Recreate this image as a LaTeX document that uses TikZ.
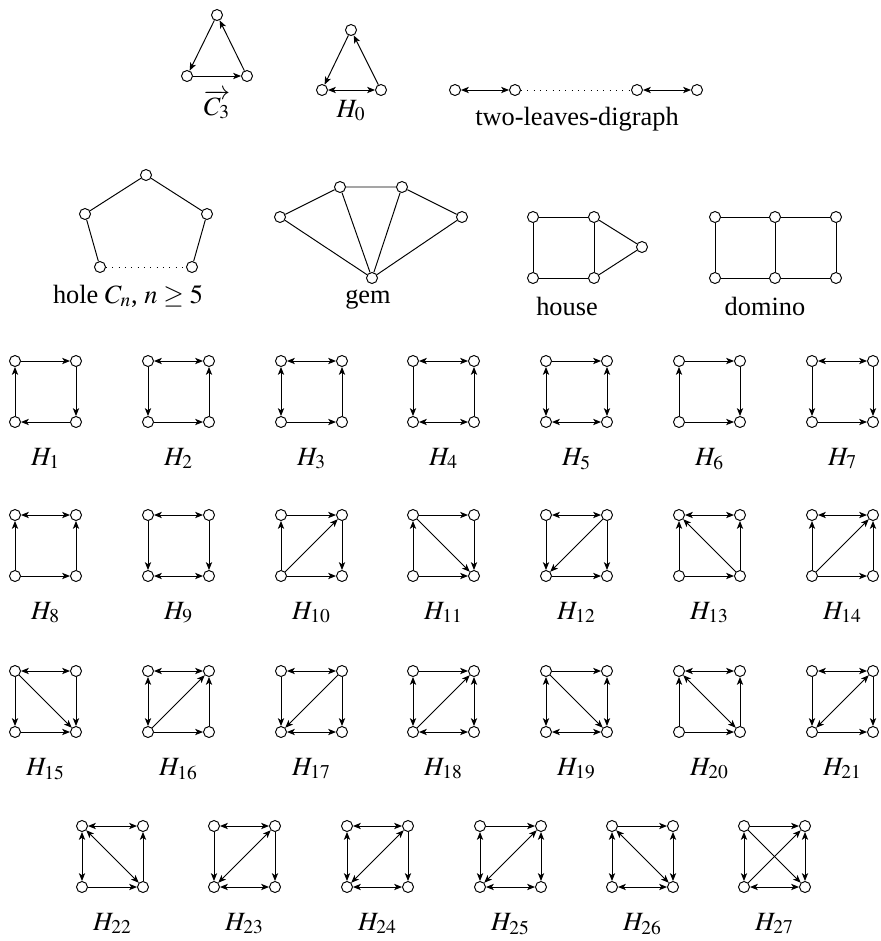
\documentclass[tikz,border=0pt]{standalone}
\usepackage{mathptmx}
\usepackage{fontspec}
\setmainfont{Liberation Serif}
\usetikzlibrary{arrows.meta}
\tikzset{vert/.style={
    circle,
    draw,
    fill=white,
    inner sep=0pt,
    minimum size=0.22cm
  },
  glabel/.style={anchor=base,inner sep=0pt,font=\fontsize{15}{18}\selectfont},
  dots/.style={dash pattern=on 0.6pt off 3pt},
}
% one square H_i: name, left x, top y, index
\newcommand{\hsq}[4]{%
  \node[vert] (#1a) at (#2,#3) {};
  \node[vert] (#1b) at (#2+61,#3) {};
  \node[vert] (#1c) at (#2,#3+61) {};
  \node[vert] (#1d) at (#2+61,#3+61) {};
  \node[glabel] (#1l) at (#2+30.5,#3+104) {$H_{#4}$};
}

\begin{document}
\begin{tikzpicture}[x=0.02cm,y=-0.02cm,line width=0.55pt,
    >={Stealth[length=4.5pt,width=3.6pt,inset=1.2pt]}]
  \useasboundingbox (0,0) rectangle (881,941);

  % top row
  \node[vert] (ct) at (217,15) {};
  \node[vert] (cl) at (187,76) {};
  \node[vert] (cr) at (247,76) {};
  \node[glabel] (cname) at (217,115) {$\overrightarrow{C_3}$};
  \draw[->] (ct) -- (cl);
  \draw[->] (cl) -- (cr);
  \draw[->] (cr) -- (ct);

  \node[vert] (ht) at (351,30) {};
  \node[vert] (hl) at (322,90) {};
  \node[vert] (hr) at (381,90) {};
  \node[glabel] (hname) at (351,117) {$H_0$};
  \draw[->] (ht) -- (hl);
  \draw[<->] (hl) -- (hr);
  \draw[->] (hr) -- (ht);

  \node[vert] (l1) at (455,90) {};
  \node[vert] (l2) at (515,90) {};
  \node[vert] (l3) at (637,90) {};
  \node[vert] (l4) at (697,90) {};
  \node[glabel] (lname) at (577,125) {two-leaves-digraph};
  \draw[<->] (l1) -- (l2);
  \draw[dots] (l2) -- (l3);
  \draw[<->] (l3) -- (l4);

  % undirected graphs
  \node[vert] (p1) at (146,175) {};
  \node[vert] (p2) at (85,214) {};
  \node[vert] (p3) at (207,214) {};
  \node[vert] (p4) at (100,267) {};
  \node[vert] (p5) at (192,267) {};
  \node[glabel] (pname) at (128,303) {hole $C_n$, $n\geq 5$};
  \draw (p1) -- (p2) -- (p4);
  \draw (p1) -- (p3) -- (p5);
  \draw[dots] (p4) -- (p5);

  \node[vert] (g1) at (280,217) {};
  \node[vert] (g2) at (340,187) {};
  \node[vert] (g3) at (402,187) {};
  \node[vert] (g4) at (462,217) {};
  \node[vert] (g5) at (372,278) {};
  \node[glabel] (gname) at (368,303) {gem};
  \draw (g1) -- (g2) -- (g3) -- (g4);
  \draw (g5) -- (g1);
  \draw (g5) -- (g2);
  \draw (g5) -- (g3);
  \draw (g5) -- (g4);

  \node[vert] (s1) at (533,217) {};
  \node[vert] (s2) at (594,217) {};
  \node[vert] (s3) at (533,278) {};
  \node[vert] (s4) at (594,278) {};
  \node[vert] (s5) at (642,247) {};
  \node[glabel] (sname) at (567,315) {house};
  \draw (s1) -- (s2) -- (s4) -- (s3) -- (s1);
  \draw (s2) -- (s5) -- (s4);

  \node[vert] (d1) at (715,217) {};
  \node[vert] (d2) at (775,217) {};
  \node[vert] (d3) at (836,217) {};
  \node[vert] (d4) at (715,278) {};
  \node[vert] (d5) at (775,278) {};
  \node[vert] (d6) at (836,278) {};
  \node[glabel] (dname) at (765,315) {domino};
  \draw (d1) -- (d2) -- (d3) -- (d6) -- (d5) -- (d4) -- (d1);
  \draw (d2) -- (d5);

  % H_1 ... H_7
  \hsq{h1}{15}{361}{1}
  \draw[->] (h1a) -- (h1b);
  \draw[->] (h1b) -- (h1d);
  \draw[->] (h1d) -- (h1c);
  \draw[->] (h1c) -- (h1a);
  \hsq{h2}{148}{361}{2}
  \draw[<->] (h2a) -- (h2b);
  \draw[->] (h2a) -- (h2c);
  \draw[->] (h2c) -- (h2d);
  \draw[->] (h2d) -- (h2b);
  \hsq{h3}{281}{361}{3}
  \draw[<->] (h3a) -- (h3b);
  \draw[<->] (h3a) -- (h3c);
  \draw[->] (h3c) -- (h3d);
  \draw[->] (h3d) -- (h3b);
  \hsq{h4}{413}{361}{4}
  \draw[<->] (h4a) -- (h4b);
  \draw[->] (h4a) -- (h4c);
  \draw[<->] (h4c) -- (h4d);
  \draw[->] (h4d) -- (h4b);
  \hsq{h5}{546}{361}{5}
  \draw[->] (h5a) -- (h5b);
  \draw[<->] (h5a) -- (h5c);
  \draw[<->] (h5c) -- (h5d);
  \draw[<->] (h5b) -- (h5d);
  \hsq{h6}{679}{361}{6}
  \draw[->] (h6a) -- (h6b);
  \draw[->] (h6c) -- (h6a);
  \draw[->] (h6b) -- (h6d);
  \draw[->] (h6c) -- (h6d);
  \hsq{h7}{812}{361}{7}
  \draw[<->] (h7a) -- (h7b);
  \draw[->] (h7a) -- (h7c);
  \draw[->] (h7b) -- (h7d);
  \draw[->] (h7c) -- (h7d);

  % H_8 ... H_14
  \hsq{h8}{15}{515}{8}
  \draw[<->] (h8a) -- (h8b);
  \draw[->] (h8c) -- (h8a);
  \draw[->] (h8d) -- (h8b);
  \draw[->] (h8c) -- (h8d);
  \hsq{h9}{148}{515}{9}
  \draw[<->] (h9a) -- (h9b);
  \draw[->] (h9a) -- (h9c);
  \draw[->] (h9b) -- (h9d);
  \draw[<->] (h9c) -- (h9d);
  \hsq{h10}{281}{515}{10}
  \draw[->] (h10a) -- (h10b);
  \draw[->] (h10c) -- (h10a);
  \draw[->] (h10c) -- (h10b);
  \draw[->] (h10b) -- (h10d);
  \draw[->] (h10c) -- (h10d);
  \hsq{h11}{413}{515}{11}
  \draw[->] (h11a) -- (h11b);
  \draw[->] (h11c) -- (h11a);
  \draw[->] (h11a) -- (h11d);
  \draw[->] (h11b) -- (h11d);
  \draw[->] (h11c) -- (h11d);
  \hsq{h12}{546}{515}{12}
  \draw[<->] (h12a) -- (h12b);
  \draw[->] (h12a) -- (h12c);
  \draw[->] (h12b) -- (h12c);
  \draw[->] (h12b) -- (h12d);
  \draw[->] (h12c) -- (h12d);
  \hsq{h13}{679}{515}{13}
  \draw[<->] (h13a) -- (h13b);
  \draw[->] (h13c) -- (h13a);
  \draw[->] (h13d) -- (h13a);
  \draw[->] (h13d) -- (h13b);
  \draw[->] (h13c) -- (h13d);
  \hsq{h14}{812}{515}{14}
  \draw[<->] (h14a) -- (h14b);
  \draw[->] (h14c) -- (h14a);
  \draw[->] (h14c) -- (h14b);
  \draw[->] (h14d) -- (h14b);
  \draw[->] (h14c) -- (h14d);

  % H_15 ... H_21
  \hsq{h15}{15}{671}{15}
  \draw[<->] (h15a) -- (h15b);
  \draw[->] (h15a) -- (h15c);
  \draw[->] (h15a) -- (h15d);
  \draw[->] (h15b) -- (h15d);
  \draw[->] (h15c) -- (h15d);
  \hsq{h16}{148}{671}{16}
  \draw[<->] (h16a) -- (h16b);
  \draw[<->] (h16a) -- (h16c);
  \draw[->] (h16c) -- (h16b);
  \draw[->] (h16d) -- (h16b);
  \draw[->] (h16c) -- (h16d);
  \hsq{h17}{281}{671}{17}
  \draw[<->] (h17a) -- (h17b);
  \draw[->] (h17a) -- (h17c);
  \draw[->] (h17b) -- (h17c);
  \draw[->] (h17b) -- (h17d);
  \draw[<->] (h17c) -- (h17d);
  \hsq{h18}{413}{671}{18}
  \draw[->] (h18a) -- (h18b);
  \draw[<->] (h18a) -- (h18c);
  \draw[->] (h18c) -- (h18b);
  \draw[<->] (h18b) -- (h18d);
  \draw[<->] (h18c) -- (h18d);
  \hsq{h19}{546}{671}{19}
  \draw[->] (h19a) -- (h19b);
  \draw[<->] (h19a) -- (h19c);
  \draw[->] (h19a) -- (h19d);
  \draw[<->] (h19b) -- (h19d);
  \draw[<->] (h19c) -- (h19d);
  \hsq{h20}{679}{671}{20}
  \draw[<->] (h20a) -- (h20b);
  \draw[->] (h20c) -- (h20a);
  \draw[<->] (h20a) -- (h20d);
  \draw[->] (h20d) -- (h20b);
  \draw[->] (h20c) -- (h20d);
  \hsq{h21}{812}{671}{21}
  \draw[<->] (h21a) -- (h21b);
  \draw[->] (h21a) -- (h21c);
  \draw[<->] (h21c) -- (h21b);
  \draw[->] (h21b) -- (h21d);
  \draw[->] (h21c) -- (h21d);

  % H_22 ... H_27
  \hsq{h22}{82}{826}{22}
  \draw[<->] (h22a) -- (h22b);
  \draw[<->] (h22c) -- (h22a);
  \draw[<->] (h22d) -- (h22a);
  \draw[->] (h22d) -- (h22b);
  \draw[->] (h22c) -- (h22d);
  \hsq{h23}{214}{826}{23}
  \draw[<->] (h23a) -- (h23b);
  \draw[->] (h23a) -- (h23c);
  \draw[<->] (h23c) -- (h23b);
  \draw[->] (h23b) -- (h23d);
  \draw[<->] (h23c) -- (h23d);
  \hsq{h24}{347}{826}{24}
  \draw[<->] (h24a) -- (h24b);
  \draw[<->] (h24c) -- (h24a);
  \draw[<->] (h24c) -- (h24b);
  \draw[->] (h24b) -- (h24d);
  \draw[<->] (h24c) -- (h24d);
  \hsq{h25}{480}{826}{25}
  \draw[->] (h25a) -- (h25b);
  \draw[<->] (h25c) -- (h25a);
  \draw[<->] (h25c) -- (h25b);
  \draw[<->] (h25d) -- (h25b);
  \draw[<->] (h25c) -- (h25d);
  \hsq{h26}{612}{826}{26}
  \draw[->] (h26a) -- (h26b);
  \draw[<->] (h26c) -- (h26a);
  \draw[<->] (h26d) -- (h26a);
  \draw[<->] (h26d) -- (h26b);
  \draw[<->] (h26c) -- (h26d);
  \hsq{h27}{744}{826}{27}
  \draw[->] (h27a) -- (h27b);
  \draw[<->] (h27c) -- (h27a);
  \draw[->] (h27a) -- (h27d);
  \draw[->] (h27c) -- (h27b);
  \draw[<->] (h27d) -- (h27b);
  \draw[<->] (h27c) -- (h27d);
\end{tikzpicture}
\end{document}
